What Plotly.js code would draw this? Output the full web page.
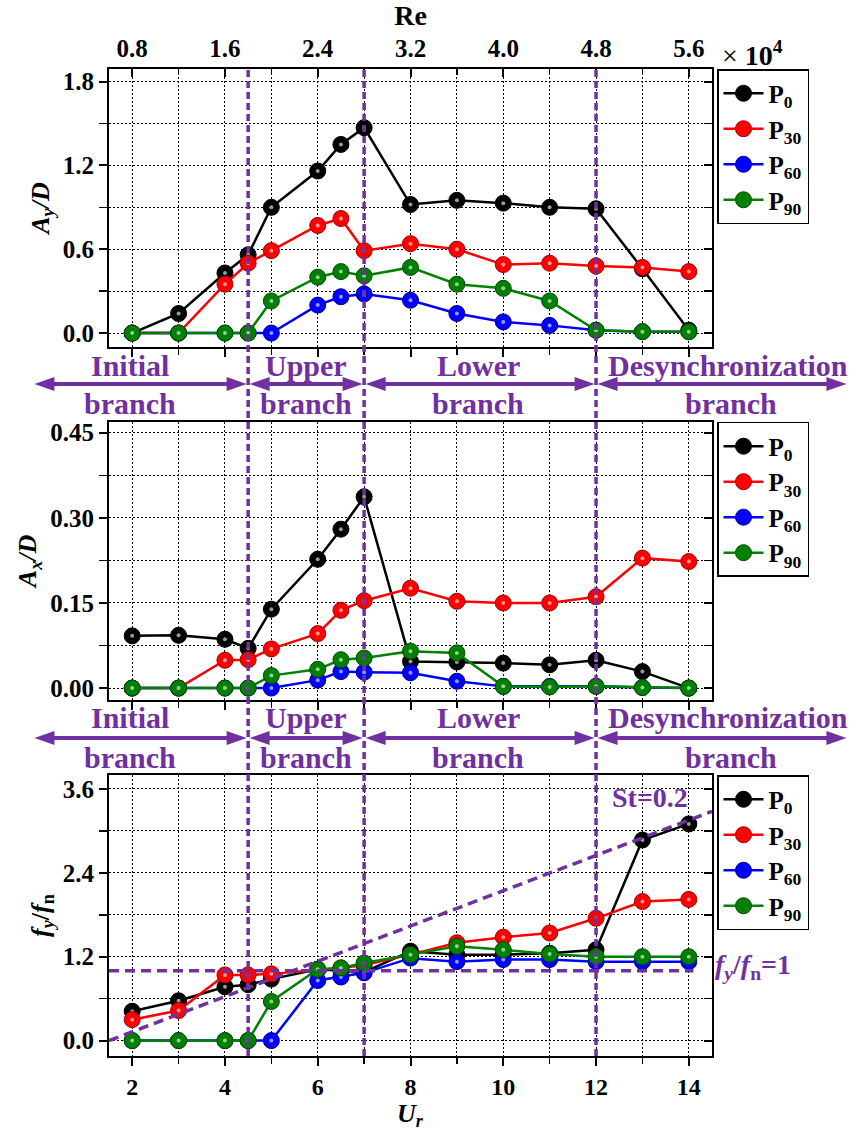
<!DOCTYPE html>
<html>
<head>
<meta charset="utf-8">
<script src="https://cdn.plot.ly/plotly-3.0.1.min.js"></script>
<style>
  html, body { margin: 0; padding: 0; background: #ffffff; }
  #chart { width: 856px; height: 1131px; }
</style>
</head>
<body>
<div id="chart"></div>
<script>
// Reduced velocity Ur for every test point
const ur = [2, 3, 4, 4.5, 5, 6, 6.5, 7, 8, 9, 10, 11, 12, 13, 14];

// Cross-flow amplitude Ay/D
const ayP0  = [0, 0.14, 0.43, 0.56, 0.90, 1.16, 1.35, 1.47, 0.92, 0.95, 0.93, 0.90, 0.89, 0.46, 0.02];
const ayP30 = [0, 0, 0.35, 0.50, 0.59, 0.77, 0.82, 0.59, 0.64, 0.60, 0.49, 0.50, 0.48, 0.47, 0.44];
const ayP60 = [0, 0, 0, 0, 0, 0.20, 0.26, 0.28, 0.235, 0.14, 0.08, 0.055, 0.02, 0.01, 0.01];
const ayP90 = [0, 0, 0, 0, 0.23, 0.40, 0.44, 0.41, 0.47, 0.35, 0.32, 0.23, 0.02, 0.01, 0.01];

// In-line amplitude Ax/D
const axP0  = [0.092, 0.093, 0.086, 0.070, 0.139, 0.227, 0.280, 0.337, 0.047, 0.046, 0.044, 0.041, 0.049, 0.029, 0.0];
const axP30 = [0, 0, 0.049, 0.050, 0.069, 0.096, 0.137, 0.154, 0.176, 0.153, 0.150, 0.150, 0.161, 0.229, 0.223];
const axP60 = [0, 0, 0, 0, 0, 0.014, 0.029, 0.028, 0.027, 0.012, 0.003, 0.003, 0.003, 0.001, 0.0];
const axP90 = [0, 0, 0, 0, 0.022, 0.033, 0.050, 0.053, 0.065, 0.062, 0.003, 0.002, 0.003, 0.001, 0.0];

// Frequency ratio fy/fn
const fyP0  = [0.42, 0.57, 0.77, 0.80, 0.88, 1.02, 1.00, 0.98, 1.28, 1.23, 1.23, 1.25, 1.30, 2.87, 3.10];
const fyP30 = [0.30, 0.43, 0.94, 0.94, 0.955, 1.01, 1.04, 1.08, 1.23, 1.40, 1.48, 1.54, 1.75, 1.99, 2.02];
const fyP60 = [0, 0, 0, 0, 0, 0.86, 0.91, 0.97, 1.18, 1.13, 1.16, 1.16, 1.13, 1.13, 1.13];
const fyP90 = [0, 0, 0, 0, 0.56, 1.02, 1.04, 1.11, 1.23, 1.35, 1.30, 1.24, 1.20, 1.20, 1.20];

const seriesNames = ['P<sub>0</sub>', 'P<sub>30</sub>', 'P<sub>60</sub>', 'P<sub>90</sub>'];

// Top axis: Reynolds number (x 10^4)
const reTicks = [0.8, 1.6, 2.4, 3.2, 4.0, 4.8, 5.6];
const reTickLabels = ['0.8', '1.6', '2.4', '3.2', '4.0', '4.8', '5.6'];
const rePerUr = 0.4;

// Response branches
const branchNames = ['Initial', 'Upper', 'Lower', 'Desynchronization'];
const branchEdges = [4.5, 7, 12];

// Reference lines in the frequency panel
const stLineUr = [1.5, 14.5];
const stLineF  = [0, 3.28];
const lockInUr = [1.5, 14.1];
const lockInF  = 1;

// ---------------------------------------------------------------
const colors = ['#000000', '#ff0000', '#0000ff', '#008000'];
const edges  = ['#000000', '#a00000', '#00008c', '#004d00'];
const purple = '#7030a0';
const FONT = '"Liberation Serif", "Times New Roman", "DejaVu Serif", serif';

const W = 856, H = 1131;
const M = { l: 109, r: 144, t: 69, b: 75 };
const plotW = W - M.l - M.r, plotH = H - M.t - M.b;
const urRange = [1.5, 14.5];
const urToPaper = u => (u - urRange[0]) / (urRange[1] - urRange[0]);
const pxX = p => p / plotW;
const pxY = p => p / plotH;

const dom = {
  top: [0.7183, 1.0],
  mid: [0.3607, 0.6424],
  bot: [0.0, 0.2847]
};

const panels = [
  { xa: 'x3', ya: 'y3', yr: 'y6', legend: 'legend',  series: [ayP0, ayP30, ayP60, ayP90] },
  { xa: 'x2', ya: 'y2', yr: 'y5', legend: 'legend2', series: [axP0, axP30, axP60, axP90] },
  { xa: 'x',  ya: 'y',  yr: 'y4', legend: 'legend3', series: [fyP0, fyP30, fyP60, fyP90] }
];

const traces = [];
panels.forEach((p, pi) => {
  p.series.forEach((vals, si) => {
    const grp = 'g' + pi + '_' + si;
    traces.push({
      type: 'scatter', mode: 'lines+markers',
      x: ur, y: vals, xaxis: p.xa, yaxis: p.ya,
      name: seriesNames[si], legend: p.legend, legendgroup: grp,
      line: { color: colors[si], width: 2.5 },
      marker: { size: 16, color: colors[si], line: { color: edges[si], width: 1 } },
      cliponaxis: false
    });
    // glossy highlight on each marker
    traces.push({
      type: 'scatter', mode: 'markers',
      x: ur, y: vals, xaxis: p.xa, yaxis: p.ya,
      legendgroup: grp, showlegend: false, hoverinfo: 'skip',
      marker: { size: 4, color: 'rgba(255,255,255,0.6)' },
      cliponaxis: false
    });
  });
  // anchors the right-hand tick axis of the panel
  traces.push({ type: 'scatter', x: [], y: [], xaxis: p.xa, yaxis: p.yr, showlegend: false, hoverinfo: 'skip' });
});
// anchors the Reynolds-number axis
traces.push({ type: 'scatter', x: [], y: [], xaxis: 'x4', yaxis: 'y3', showlegend: false, hoverinfo: 'skip' });

const gridDash = '2px,2px';
const tickFont = { family: FONT, size: 25, weight: 'bold', color: 'black' };
function xAxis(anchor, showLabels) {
  return {
    anchor: anchor, range: urRange, tickmode: 'linear', tick0: 0, dtick: 2,
    showticklabels: showLabels, ticks: 'outside', ticklen: 8, tickwidth: 2, tickcolor: 'black',
    linecolor: 'black', linewidth: 2, mirror: true,
    showgrid: true, gridcolor: 'black', gridwidth: 1, griddash: gridDash, zeroline: false,
    minor: { tickmode: 'linear', tick0: 0, dtick: 1, ticks: 'outside', ticklen: 6, tickwidth: 1.5,
             tickcolor: 'black', showgrid: true, gridcolor: 'black', gridwidth: 1, griddash: gridDash },
    tickfont: tickFont
  };
}
function yAxis(anchor, domain, range, dtick, fmt, title) {
  return {
    anchor: anchor, domain: domain, range: range, tickmode: 'linear', tick0: 0, dtick: dtick,
    tickformat: fmt, ticks: 'outside', ticklen: 8, tickwidth: 2, tickcolor: 'black',
    linecolor: 'black', linewidth: 2, mirror: true,
    showgrid: true, gridcolor: 'black', gridwidth: 1, griddash: gridDash, zeroline: false,
    minor: { tickmode: 'linear', tick0: 0, dtick: dtick / 2, ticks: 'outside', ticklen: 8, tickwidth: 1.5,
             tickcolor: 'black', showgrid: true, gridcolor: 'black', gridwidth: 1, griddash: gridDash },
    tickfont: tickFont,
    title: { text: title, font: { family: FONT, size: 26, weight: 'bold', color: 'black' }, standoff: 6 }
  };
}
// right-hand axis carrying inward ticks only
function yRight(base, leftId, anchor) {
  return {
    overlaying: leftId, side: 'right', anchor: anchor, domain: base.domain, range: base.range,
    tickmode: 'linear', tick0: 0, dtick: base.dtick, showticklabels: false,
    ticks: 'inside', ticklen: 8, tickwidth: 2, tickcolor: 'black',
    minor: { tickmode: 'linear', tick0: 0, dtick: base.dtick / 2, ticks: 'inside', ticklen: 8, tickwidth: 1.5, tickcolor: 'black' },
    showgrid: false, zeroline: false, showline: false
  };
}

// ---- shapes: branch boundaries, reference lines, branch arrows
const shapes = [];
branchEdges.forEach(e => shapes.push({
  type: 'line', xref: 'x', yref: 'paper', x0: e, x1: e, y0: 0, y1: 1,
  line: { color: purple, width: 3.5, dash: '7px,4px' }, layer: 'above'
}));
shapes.push({
  type: 'line', xref: 'x', yref: 'y', x0: stLineUr[0], x1: stLineUr[1], y0: stLineF[0], y1: stLineF[1],
  line: { color: purple, width: 3.5, dash: '10px,6px' }, layer: 'above'
});
shapes.push({
  type: 'line', xref: 'x', yref: 'y', x0: lockInUr[0], x1: lockInUr[1], y0: lockInF, y1: lockInF,
  line: { color: purple, width: 3.5, dash: '10px,6px' }, layer: 'above'
});

const branchSpans = [[-0.14, 4.5], [4.5, 7], [7, 12], [12, 17.43]];
const headLen = pxX(20), headHalf = pxY(7), tipGap = pxX(1.5);
function doubleArrow(u0, u1, y) {
  const a = urToPaper(u0) + tipGap, b = urToPaper(u1) - tipGap;
  shapes.push({ type: 'line', xref: 'paper', yref: 'paper', x0: a + headLen * 0.8, x1: b - headLen * 0.8, y0: y, y1: y,
                line: { color: purple, width: 4 } });
  shapes.push({ type: 'path', xref: 'paper', yref: 'paper', fillcolor: purple, line: { width: 0 },
                path: `M${a},${y} L${a + headLen},${y + headHalf} L${a + headLen},${y - headHalf} Z` });
  shapes.push({ type: 'path', xref: 'paper', yref: 'paper', fillcolor: purple, line: { width: 0 },
                path: `M${b},${y} L${b - headLen},${y + headHalf} L${b - headLen},${y - headHalf} Z` });
}

const annotations = [];
const labelCenters = [[1.95, 1.95], [5.75, 5.75], [9.46, 9.46], [14.85, 14.9]];
const bandRows = [
  { name: 0.7001, arrow: 0.6809, branch: 0.6616 },
  { name: 0.3430, arrow: 0.3222, branch: 0.3029 }
];
const purpleFont = size => ({ family: FONT, size: size, color: purple, weight: 'bold' });
bandRows.forEach(row => {
  branchSpans.forEach((s, i) => {
    doubleArrow(s[0], s[1], row.arrow);
    annotations.push({ xref: 'paper', yref: 'paper', x: urToPaper(labelCenters[i][0]), y: row.name,
      text: branchNames[i], showarrow: false, xanchor: 'center', yanchor: 'middle', font: purpleFont(30) });
    annotations.push({ xref: 'paper', yref: 'paper', x: urToPaper(labelCenters[i][1]), y: row.branch,
      text: 'branch', showarrow: false, xanchor: 'center', yanchor: 'middle', font: purpleFont(30) });
  });
});

annotations.push({ xref: 'paper', yref: 'paper', x: 1.013, y: 1.016, xanchor: 'left', yanchor: 'middle',
  text: '<span style="font-weight:normal">×</span> 10<sup>4</sup>', showarrow: false,
  font: { family: FONT, size: 28, weight: 'bold', color: 'black' } });
annotations.push({ xref: 'paper', yref: 'paper', x: 0.897, y: 0.2614, xanchor: 'center', yanchor: 'middle',
  text: 'St=0.2', showarrow: false, font: purpleFont(28) });
annotations.push({ xref: 'paper', yref: 'paper', x: 1.0017, y: 0.0902, xanchor: 'left', yanchor: 'middle',
  text: '<i>f<sub>y</sub></i>/<i>f</i><sub>n</sub>=1', showarrow: false, font: purpleFont(28) });
// bottom axis name, set just under the tick labels
annotations.push({ xref: 'paper', yref: 'paper', x: urToPaper(8), y: -pxY(1115 - (H - M.b)), xanchor: 'center', yanchor: 'middle',
  text: '<i>U<sub>r</sub></i>', showarrow: false, font: { family: FONT, size: 26, weight: 'bold', color: 'black' } });

function legendAt(yTop) {
  return {
    x: pxX(717 - M.l), xanchor: 'left', y: yTop, yanchor: 'top',
    bordercolor: 'black', borderwidth: 1.5, bgcolor: 'white',
    font: { family: FONT, size: 25, weight: 'bold', color: 'black' }, itemwidth: 40, tracegroupgap: 0
  };
}

const xTop = xAxis('y3', false);
const xMid = xAxis('y2', false);
const xBot = xAxis('y', true);
xBot.tickfont = { family: FONT, size: 24, weight: 'bold', color: 'black' };
xMid.matches = 'x';
xTop.matches = 'x';

const yTop = yAxis('x3', dom.top, [-0.1, 1.89], 0.6, '.1f', '<i>A<sub>y</sub>/D</i>');
const yMid = yAxis('x2', dom.mid, [-0.021, 0.469], 0.15, '.2f', '<i>A<sub>x</sub>/D</i>');
const yBot = yAxis('x',  dom.bot, [-0.22, 3.8], 1.2, '.1f', '<i>f<sub>y</sub></i>/<i>f</i><sub>n</sub>');

const layout = {
  width: W, height: H, margin: M,
  paper_bgcolor: 'white', plot_bgcolor: 'white',
  font: { family: FONT, size: 24, color: 'black', weight: 'bold' },
  showlegend: true,
  xaxis: xBot,
  xaxis2: xMid,
  xaxis3: xTop,
  xaxis4: {
    overlaying: 'x3', side: 'top', anchor: 'y3',
    range: [urRange[0] * rePerUr, urRange[1] * rePerUr],
    tickmode: 'array', tickvals: reTicks, ticktext: reTickLabels,
    ticks: 'inside', ticklen: 8, tickwidth: 2, tickcolor: 'black',
    minor: { tickmode: 'linear', tick0: 0, dtick: rePerUr, ticks: 'inside', ticklen: 6, tickwidth: 1.5, tickcolor: 'black' },
    showgrid: false, zeroline: false, linecolor: 'black', linewidth: 2,
    tickfont: tickFont,
    title: { text: 'Re', font: { family: FONT, size: 28, weight: 'bold', color: 'black' }, standoff: 8 }
  },
  yaxis3: yTop,
  yaxis2: yMid,
  yaxis:  yBot,
  yaxis6: yRight(yTop, 'y3', 'x3'),
  yaxis5: yRight(yMid, 'y2', 'x2'),
  yaxis4: yRight(yBot, 'y', 'x'),
  legend:  legendAt(1.0),
  legend2: legendAt(dom.mid[1]),
  legend3: legendAt(dom.bot[1]),
  shapes: shapes,
  annotations: annotations
};

Plotly.newPlot('chart', traces, layout, { staticPlot: true, displayModeBar: false });
</script>
</body>
</html>
